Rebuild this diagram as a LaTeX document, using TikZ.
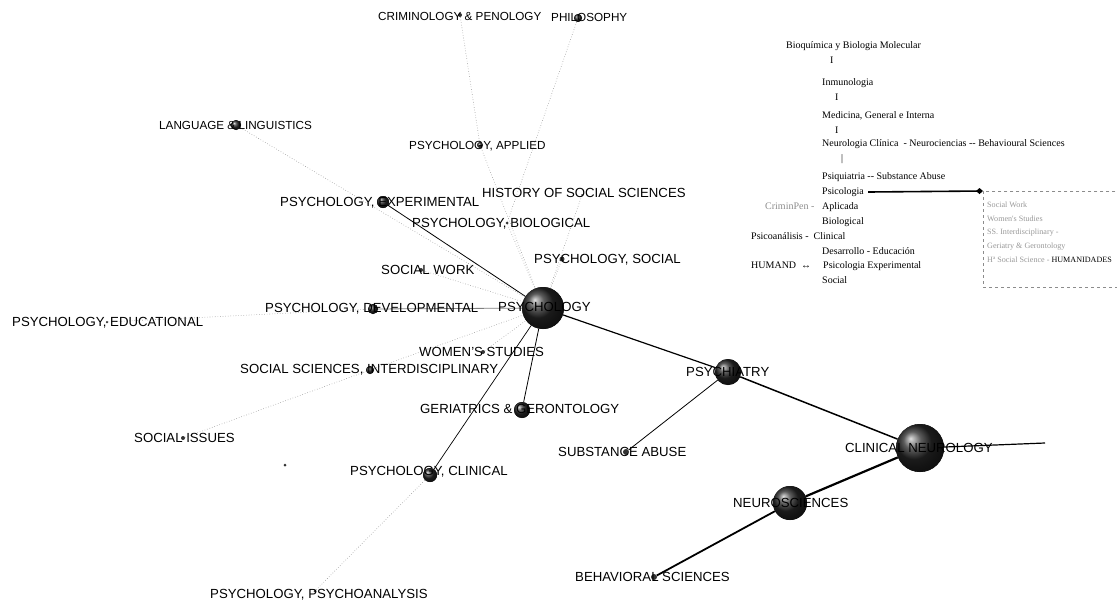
\documentclass[tikz,border=0pt]{standalone}
\usepackage{fontspec}
\setmainfont{Liberation Sans}
\newfontfamily\legserif{Liberation Serif}
\usetikzlibrary{arrows.meta}
\begin{document}
\begin{tikzpicture}[x=1pt,y=-1pt,
  lab/.style={font=\fontsize{13.2}{15}\selectfont, anchor=base west, inner sep=0pt},
  labs/.style={font=\fontsize{11.7}{14}\selectfont, anchor=base west, inner sep=0pt},
  sphere/.style={circle, inner sep=0pt, minimum size=#1, shading=ball, ball color=black!85},
  dotnode/.style={circle, inner sep=0pt, minimum size=#1, fill=black!80},
  strong/.style={draw=black, line width=#1},
  faint/.style={draw=black!40, dotted, line width=0.6pt},
  leg/.style={font=\legserif\fontsize{10}{12}\selectfont, anchor=base west, inner sep=0pt},
  leggray/.style={leg, text=black!45},
  boxtxt/.style={font=\legserif\fontsize{8.1}{10}\selectfont, anchor=base west, inner sep=0pt, text=black!40},
]
\useasboundingbox (0,0) rectangle (1117,602);

% ---------- ball / dot nodes ----------
\node[sphere=42] (psy) at (543,308) {};
\node[sphere=26] (psyc) at (728,372) {};
\node[sphere=48] (cn) at (920,448) {};
\node[sphere=34] (neu) at (790,503) {};
\node[sphere=16] (ger) at (522,410) {};
\node[sphere=14] (pcl) at (430,475) {};
\node[sphere=12] (pexp) at (383,202) {};
\node[sphere=10] (pdev) at (373,309) {};
\node[sphere=8] (ssi) at (370,370) {};
\node[sphere=10] (lang) at (236,125) {};
\node[sphere=8] (phil) at (578,18) {};
\node[sphere=6] (app) at (480,145) {};
\node[dotnode=4] (crim) at (460,15) {};
\node[dotnode=5] (psoc) at (562,259) {};
\node[dotnode=4] (wom) at (483,352) {};
\node[dotnode=6] (sub) at (626,452) {};
\node[dotnode=6] (beh) at (654,577) {};
\node[dotnode=4] (sw) at (421,270) {};
\node[dotnode=4] (si) at (183,438) {};
\node[dotnode=2.5] (edu) at (107,322) {};
\node[dotnode=3] (pan) at (315,591) {};
\node[dotnode=3] (bio) at (507,223) {};
\node[dotnode=2] (hist) at (582,195) {};
\node[dotnode=3] (stray) at (285,465) {};
\coordinate (cnend) at (1045,443);

% ---------- connectors ----------
\draw[faint] (crim) -- (app);
\draw[faint] (app) -- (psy);
\draw[faint] (phil) -- (bio);
\draw[faint] (bio) -- (psy);
\draw[faint] (lang) -- (psy);
\draw[faint] (hist) -- (psy);
\draw[faint] (psoc) -- (psy);
\draw[faint] (sw) -- (psy);
\draw[faint] (edu) -- (pdev);
\draw[faint] (si) -- (ssi);
\draw[faint] (ssi) -- (psy);
\draw[faint] (wom) -- (psy);
\draw[faint] (pan) -- (pcl);
\draw[strong=1.2pt] (psy) -- (psyc);
\draw[strong=1.5pt] (psyc) -- (cn);
\draw[strong=1.2pt] (cn) -- (cnend);
\draw[strong=2.2pt] (cn) -- (neu);
\draw[strong=1.8pt] (neu) -- (beh);
\draw[strong=0.8pt] (psyc) -- (sub);
\draw[strong=0.8pt] (psy) -- (pexp);
\draw[draw=black!50, line width=0.8pt] (psy) -- (pdev);
\draw[strong=0.8pt] (psy) -- (ger);
\draw[strong=0.7pt] (psy) -- (pcl);

% redraw balls above lines
\node[sphere=42] at (psy) {};
\node[sphere=26] at (psyc) {};
\node[sphere=48] at (cn) {};
\node[sphere=34] at (neu) {};
\node[sphere=16] at (ger) {};
\node[sphere=14] at (pcl) {};
\node[sphere=12] at (pexp) {};
\node[sphere=10] at (pdev) {};
\node[sphere=8] at (ssi) {};
\node[sphere=10] at (lang) {};
\node[sphere=8] at (phil) {};

% ---------- labels ----------
\node[labs] (tcrim) at (378,20.2) {CRIMINOLOGY \& PENOLOGY};
\node[labs] (tphil) at (551,21.2) {PHILOSOPHY};
\node[labs] (tlang) at (159,129.2) {LANGUAGE \& LINGUISTICS};
\node[labs] (tapp) at (409,149.2) {PSYCHOLOGY, APPLIED};
\node[lab] (tpexp) at (280,206.7) {PSYCHOLOGY, EXPERIMENTAL};
\node[lab] (thist) at (482,197.7) {HISTORY OF SOCIAL SCIENCES};
\node[lab] (tbio) at (412,227.7) {PSYCHOLOGY, BIOLOGICAL};
\node[lab] (tpsoc) at (534,263.7) {PSYCHOLOGY, SOCIAL};
\node[lab] (tsw) at (381,274.7) {SOCIAL WORK};
\node[lab] (tpdev) at (265,312.7) {PSYCHOLOGY, DEVELOPMENTAL};
\node[lab] (tpsy) at (498,311.7) {PSYCHOLOGY};
\node[lab] (tedu) at (12,326.7) {PSYCHOLOGY, EDUCATIONAL};
\node[lab] (twom) at (419,356.7) {WOMEN'S STUDIES};
\node[lab] (tssi) at (240,373.7) {SOCIAL SCIENCES, INTERDISCIPLINARY};
\node[lab] (tger) at (420,413.7) {GERIATRICS \& GERONTOLOGY};
\node[lab] (tsub) at (558,456.7) {SUBSTANCE ABUSE};
\node[lab] (tpsyc) at (686,376.7) {PSYCHIATRY};
\node[lab] (tsi) at (134,442.7) {SOCIAL ISSUES};
\node[lab] (tpcl) at (350,475.7) {PSYCHOLOGY, CLINICAL};
\node[lab] (tpan) at (210,598.7) {PSYCHOLOGY, PSYCHOANALYSIS};
\node[lab] (tcn) at (845,452.7) {CLINICAL NEUROLOGY};
\node[lab] (tneu) at (733,507.7) {NEUROSCIENCES};
\node[lab] (tbeh) at (575,581.7) {BEHAVIORAL SCIENCES};

% ---------- legend ----------
\node[leg] (l1) at (786,48.4) {Bioquímica y Biologia Molecular};
\node[leg] (l2) at (830,63.4) {I};
\node[leg] (l3) at (822,85.4) {Inmunologia};
\node[leg] (l4) at (835,100.4) {I};
\node[leg] (l5) at (822,118.4) {Medicina, General e Interna};
\node[leg] (l6) at (835,133.4) {I};
\node[leg] (l7) at (822,146.4) {Neurologia Clínica \ - Neurociencias -- Behavioural Sciences};
\node[leg] (l8) at (841,161) {|};
\node[leg] (l9) at (822,179.4) {Psiquiatria -- Substance Abuse};
\node[leg] (l10) at (822,194.4) {Psicologia};
\node[leggray] (l11a) at (765,209.4) {CriminPen -};
\node[leg] (l11) at (822,209.4) {Aplicada};
\node[leg] (l12) at (822,224.4) {Biological};
\node[leg] (l13) at (751,239.4) {Psicoanálisis - \ Clinical};
\node[leg] (l14) at (822,254.4) {Desarrollo - Educación};
\node[leg] (l15a) at (751,268.4) {HUMAND};
\node[leg] (l15b) at (801,268.4) {↔};
\node[leg] (l15) at (823,268.4) {Psicologia Experimental};
\node[leg] (l16) at (822,283.4) {Social};

\node[draw=black!45, dashed, line width=0.5pt, minimum width=150, minimum height=96, anchor=north west, inner sep=0pt] (box) at (983,191) {};
\node[boxtxt] (b1) at (987,207) {Social Work};
\node[boxtxt] (b2) at (987,221) {Women's Studies};
\node[boxtxt] (b3) at (987,234) {SS. Interdisciplinary -};
\node[boxtxt] (b4) at (987,248) {Geriatry \& Gerontology};
\node[boxtxt] (b5) at (987,262) {Hª Social Science - \textcolor{black}{HUMANIDADES}};

\draw[line width=1.6pt, -{Diamond[length=7pt,width=6pt]}] ([xshift=4pt]l10.east) -- (box.north west);
\end{tikzpicture}
\end{document}
